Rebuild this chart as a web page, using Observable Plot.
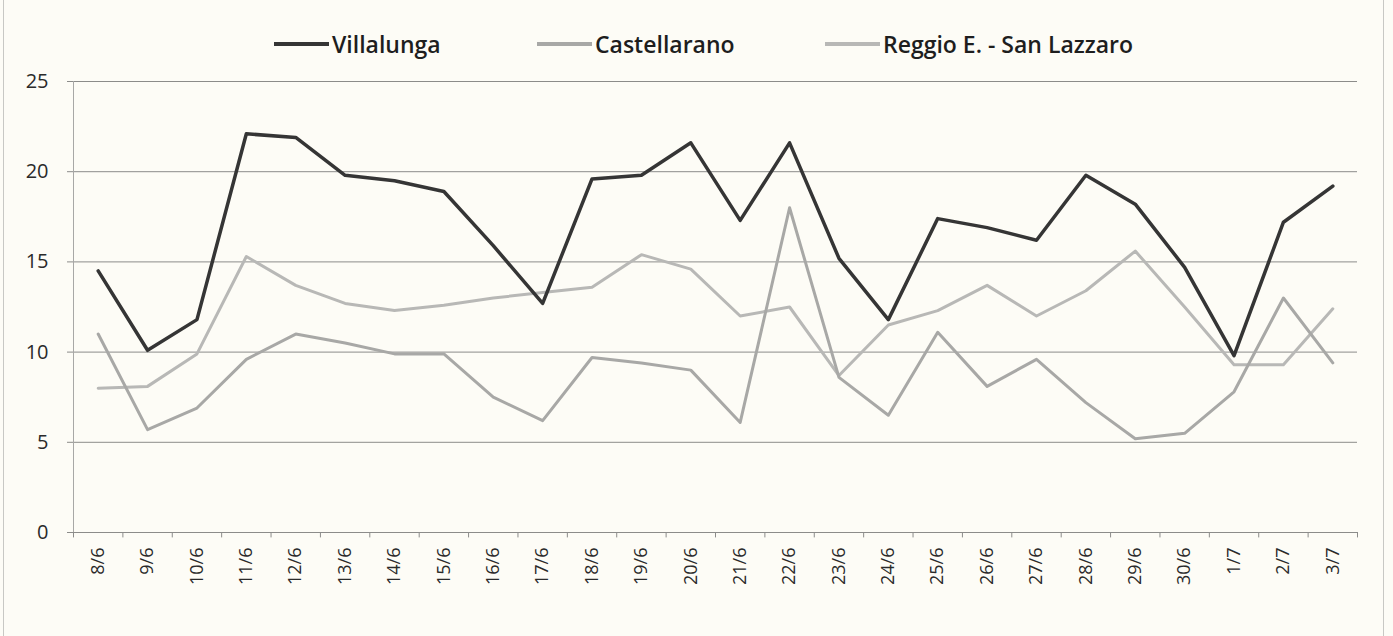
<!DOCTYPE html>
<html>
<head>
<meta charset="utf-8">
<script src="https://cdn.jsdelivr.net/npm/d3@7"></script>
<script src="https://cdn.jsdelivr.net/npm/@observablehq/plot@0.6"></script>
<style>
  html, body { margin: 0; padding: 0; background: #fdfcf6; }
  #wrap { position: relative; width: 1393px; height: 636px; overflow: hidden; }
  #frame { position: absolute; left: 3px; top: 0; width: 1381px; height: 636px; border-left: 1px solid #c8c8c4; border-right: 1px solid #c8c8c4; box-sizing: border-box; pointer-events: none; }
  #legend { position: relative; height: 60px; font-family: "Open Sans", sans-serif; font-size: 23px; font-weight: 600; color: #1e1e1e; }
  .item { position: absolute; top: 29px; display: flex; align-items: center; line-height: 30px; }
  .swatch { width: 55px; height: 4px; margin-right: 3px; }
</style>
</head>
<body>
<div id="wrap">
  <div id="legend"></div>
  <div id="chart"></div>
  <div id="frame"></div>
</div>
<script>
const dates = ["8/6","9/6","10/6","11/6","12/6","13/6","14/6","15/6","16/6","17/6","18/6","19/6","20/6","21/6","22/6","23/6","24/6","25/6","26/6","27/6","28/6","29/6","30/6","1/7","2/7","3/7"];
const villalunga   = [14.5,10.1,11.8,22.1,21.9,19.8,19.5,18.9,15.9,12.7,19.6,19.8,21.6,17.3,21.6,15.2,11.8,17.4,16.9,16.2,19.8,18.2,14.7,9.8,17.2,19.2];
const castellarano = [11.0,5.7,6.9,9.6,11.0,10.5,9.9,9.9,7.5,6.2,9.7,9.4,9.0,6.1,18.0,8.6,6.5,11.1,8.1,9.6,7.2,5.2,5.5,7.8,13.0,9.4];
const reggio       = [8.0,8.1,9.9,15.3,13.7,12.7,12.3,12.6,13.0,13.3,13.6,15.4,14.6,12.0,12.5,8.7,11.5,12.3,13.7,12.0,13.4,15.6,12.5,9.3,9.3,12.4];
const seriesNames  = ["Villalunga","Castellarano","Reggio E. - San Lazzaro"];
const seriesValues = [villalunga, castellarano, reggio];
const seriesColors = ["#353535","#a8a8a6","#b8b8b6"];
const seriesWidths = [3.5, 3, 3];
const yTicks = [0,5,10,15,20,25];

// legend
const legendLeft = [274, 537, 825];
const legend = document.getElementById("legend");
seriesNames.forEach((n, i) => {
  const it = document.createElement("div");
  it.className = "item";
  it.style.left = legendLeft[i] + "px";
  it.innerHTML = `<span class="swatch" style="background:${seriesColors[i]}"></span><span>${n}</span>`;
  legend.appendChild(it);
});

const rows = [];
seriesNames.forEach((s, i) => dates.forEach((d, j) => rows.push({series: s, date: d, value: seriesValues[i][j]})));

const W = 1393, ML = 73, MR = 36;
const step = (W - ML - MR) / dates.length;

const marks = [
  Plot.ruleY(yTicks.filter(t => t > 0), {stroke: "#8c8c8a", strokeWidth: 1, insetLeft: -6}),
  Plot.ruleX([dates[0]], {y1: 0, y2: 25, dx: -step / 2, stroke: "#a8a8a6", strokeWidth: 1}),
  Plot.ruleX(dates, {y1: 0, y2: -0.3, dx: -step / 2, stroke: "#8c8c8a", strokeWidth: 1}),
  Plot.ruleX([dates[dates.length - 1]], {y1: 0, y2: -0.3, dx: step / 2, stroke: "#8c8c8a", strokeWidth: 1}),
  Plot.ruleY([0], {stroke: "#8c8c8a", strokeWidth: 1.2, insetLeft: -6}),
  Plot.axisY({ticks: yTicks, tickSize: 0, tickPadding: 25, fontSize: 20, fill: "#2a2a2a"}),
  Plot.axisX({tickSize: 0, tickRotate: -90, tickPadding: 15, fontSize: 18, fill: "#2a2a2a"})
];
[2, 1, 0].forEach(i => {
  marks.push(Plot.lineY(rows.filter(r => r.series === seriesNames[i]), {
    x: "date", y: "value", stroke: seriesColors[i], strokeWidth: seriesWidths[i], strokeLinejoin: "round"
  }));
});

const chart = Plot.plot({
  width: W, height: 576,
  marginLeft: ML, marginRight: MR, marginTop: 21, marginBottom: 104,
  style: {background: "transparent", fontFamily: "Open Sans, sans-serif", color: "#2a2a2a", overflow: "visible"},
  x: {type: "point", domain: dates, padding: 0.5, round: false, label: null, axis: null},
  y: {domain: [0, 25], label: null, axis: null},
  marks
});
document.getElementById("chart").appendChild(chart);
</script>
</body>
</html>
